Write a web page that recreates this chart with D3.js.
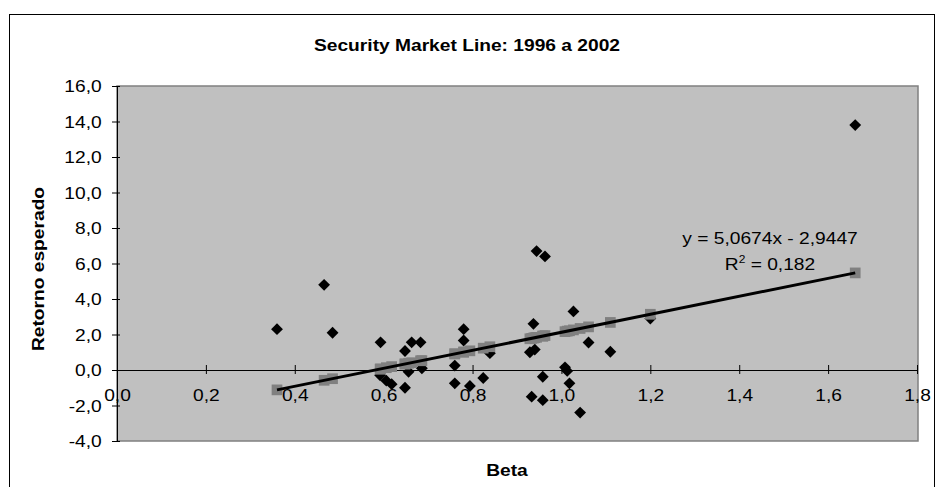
<!DOCTYPE html>
<html>
<head>
<meta charset="utf-8">
<script src="https://cdn.jsdelivr.net/npm/d3@7/dist/d3.min.js"></script>
<style>
  html, body { margin: 0; padding: 0; background: #ffffff; }
  svg { display: block; font-family: "Liberation Sans", Arial, sans-serif; }
</style>
</head>
<body>
<svg id="chart" width="937" height="487"></svg>
<script>
// ---- data ----
const betas = [0.36, 0.466, 0.485, 0.593, 0.592, 0.606, 0.618, 0.648, 0.648, 0.656,
               0.663, 0.683, 0.686, 0.76, 0.76, 0.78, 0.78, 0.794, 0.824, 0.839,
               0.929, 0.937, 0.94, 0.933, 0.944, 0.963, 0.958, 0.958, 1.008, 1.013,
               1.018, 1.027, 1.042, 1.061, 1.11, 1.2, 1.661];
const returns = [2.3, 4.8, 2.1, 1.56, -0.3, -0.6, -0.8, 1.07, -1.0, -0.1,
                 1.56, 1.56, 0.1, 0.25, -0.75, 2.3, 1.66, -0.9, -0.45, 0.95,
                 1.0, 2.6, 1.15, -1.5, 6.7, 6.4, -0.38, -1.7, 0.15, -0.05,
                 -0.75, 3.3, -2.4, 1.55, 1.03, 2.9, 13.8];
const smlValues = [-1.12, -0.58, -0.49, 0.06, 0.05, 0.13, 0.19, 0.34, 0.34, 0.38,
                   0.41, 0.52, 0.53, 0.91, 0.91, 1.01, 1.01, 1.08, 1.23, 1.31,
                   1.76, 1.80, 1.82, 1.78, 1.84, 1.94, 1.91, 1.91, 2.16, 2.19,
                   2.21, 2.26, 2.34, 2.43, 2.68, 3.14, 5.47];
const xTicks = [0, 0.2, 0.4, 0.6, 0.8, 1.0, 1.2, 1.4, 1.6, 1.8];
const yTicks = [-4, -2, 0, 2, 4, 6, 8, 10, 12, 14, 16];
const slope = 5.0674, intercept = -2.9447;
const titleText = "Security Market Line: 1996 a 2002";
const xTitle = "Beta";
const yTitle = "Retorno esperado";
const eqText = "y = 5,0674x - 2,9447";
const r2Value = "0,182";

// ---- layout ----
const svg = d3.select("#chart");
const P = { left: 117, right: 917, top: 86, bottom: 441 };
const SX = 1.2; // horizontal stretch of the original text rendering

const x = d3.scaleLinear().domain([0, 1.8]).range([P.left, P.right]);
const y = d3.scaleLinear().domain([-4, 16]).range([P.bottom, P.top]);

const loc = d3.formatLocale({ decimal: ",", thousands: ".", grouping: [3], currency: ["", ""], minus: "-" });
const fmt = loc.format(".1f");

function stretchedText(g, tx, ty, txt, opts = {}) {
  return g.append("text")
    .attr("transform", `translate(${tx},${ty})` + (opts.rotate ? ` rotate(${opts.rotate})` : "") + ` scale(${SX},1)`)
    .attr("text-anchor", opts.anchor || "middle")
    .attr("font-size", opts.size || 16)
    .attr("font-weight", opts.weight || "normal")
    .attr("fill", "#000")
    .text(txt);
}

// outer frame
svg.append("rect").attr("x", 9.5).attr("y", 14.5).attr("width", 925).attr("height", 520)
  .attr("fill", "#fff").attr("stroke", "#000").attr("stroke-width", 1);

// plot area
svg.append("rect").attr("x", P.left).attr("y", P.top)
  .attr("width", P.right - P.left + 1).attr("height", P.bottom - P.top)
  .attr("fill", "#c0c0c0").attr("stroke", "#808080").attr("stroke-width", 1.5);

// title
stretchedText(svg, 467, 51, titleText, { size: 16, weight: "bold" });

// y axis
const yAxis = svg.append("g").attr("transform", `translate(${P.left},0)`)
  .call(d3.axisLeft(y).tickValues(yTicks).tickFormat(fmt).tickSizeOuter(0));
yAxis.select(".domain").attr("stroke", "#000");
yAxis.selectAll(".tick line").attr("x1", 3).attr("x2", -5).attr("stroke", "#000");
yAxis.selectAll(".tick text").attr("font-size", 16).attr("font-family", "Liberation Sans, Arial, sans-serif")
  .attr("fill", "#000").attr("x", -15.3 / SX).attr("dy", "0.36em")
  .attr("transform", `scale(${SX},1)`);

// x axis at y = 0
const xAxis = svg.append("g").attr("transform", `translate(0,${y(0)})`)
  .call(d3.axisBottom(x).tickValues(xTicks).tickFormat(fmt).tickSizeOuter(0));
xAxis.select(".domain").attr("stroke", "#000");
xAxis.selectAll(".tick line").attr("y1", -5).attr("y2", 4).attr("stroke", "#000");
xAxis.selectAll(".tick text").attr("font-size", 16).attr("font-family", "Liberation Sans, Arial, sans-serif")
  .attr("fill", "#000").attr("y", 31).attr("dy", 0)
  .attr("transform", `scale(${SX},1)`);

// diamonds (actual returns)
const pts = betas.map((b, i) => ({ b, r: returns[i], s: smlValues[i] }));
svg.append("g").selectAll("path").data(pts).join("path")
  .attr("d", d3.symbol(d3.symbolSquare, 70)())
  .attr("transform", d => `translate(${x(d.b)},${y(d.r)}) rotate(45)`)
  .attr("fill", "#000");

// squares (SML expected)
svg.append("g").selectAll("path").data(pts).join("path")
  .attr("d", d3.symbol(d3.symbolSquare, 115)())
  .attr("transform", d => `translate(${x(d.b)},${y(d.s)})`)
  .attr("fill", "#808080");

// trend line
const bMin = d3.min(betas), bMax = d3.max(betas);
svg.append("line")
  .attr("x1", x(bMin)).attr("y1", y(slope * bMin + intercept))
  .attr("x2", x(bMax)).attr("y2", y(slope * bMax + intercept))
  .attr("stroke", "#000").attr("stroke-width", 3);

// equation labels
stretchedText(svg, 770, 244, eqText, { size: 16 });
const r2 = svg.append("text")
  .attr("transform", `translate(770,270) scale(${SX},1)`)
  .attr("text-anchor", "middle").attr("font-size", 16).attr("fill", "#000");
r2.append("tspan").text("R");
r2.append("tspan").attr("font-size", 10).attr("dy", -7).text("2");
r2.append("tspan").attr("dy", 7).text(" = " + r2Value);

// axis titles
stretchedText(svg, 507, 476, xTitle, { size: 16, weight: "bold" });
stretchedText(svg, 44, 269, yTitle, { size: 16, weight: "bold", rotate: -90 });
</script>
</body>
</html>
